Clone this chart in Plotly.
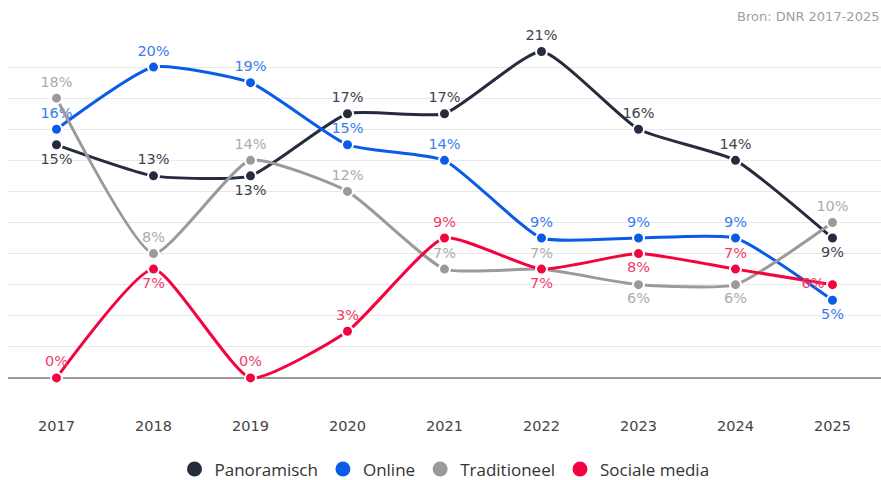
import plotly.graph_objects as go

years = ["2017", "2018", "2019", "2020", "2021", "2022", "2023", "2024", "2025"]

panoramisch = [15, 13, 13, 17, 17, 21, 16, 14, 9]
online = [16, 20, 19, 15, 14, 9, 9, 9, 5]
traditioneel = [18, 8, 14, 12, 7, 7, 6, 6, 10]
sociale_media = [0, 7, 0, 3, 9, 7, 8, 7, 6]

T, B, L = "top center", "bottom center", "middle left"
series = [
    ("Panoramisch", panoramisch, "#262b3d", "#3f4352",
     [B, T, B, T, T, T, T, T, B]),
    ("Online", online, "#0a5ce8", "#3b7ded",
     [T, T, T, T, T, T, T, T, B]),
    ("Traditioneel", traditioneel, "#9a9a9a", "#acacac",
     [T, T, T, T, T, T, B, B, T]),
    ("Sociale media", sociale_media, "#f5033f", "#f23d66",
     [T, B, T, T, T, B, B, T, L]),
]

fig = go.Figure()
for name, vals, col, txtcol, pos in series:
    fig.add_trace(go.Scatter(
        x=years, y=vals, name=name, mode="lines+markers+text",
        line=dict(color=col, width=3, shape="spline", smoothing=0.5),
        marker=dict(color=col, size=11, line=dict(color="white", width=2)),
        text=[f"{v}%" for v in vals], textposition=pos,
        textfont=dict(color=txtcol, size=14.5, family="DejaVu Sans"),
        showlegend=False, cliponaxis=False,
    ))
    # legend-only dot
    fig.add_trace(go.Scatter(
        x=[None], y=[None], name=name, mode="markers",
        marker=dict(color=col, size=15),
    ))

fig.add_annotation(text="Bron: DNR 2017-2025", xref="paper", yref="paper",
                   x=1, y=1, xanchor="right", yanchor="bottom", yshift=10,
                   showarrow=False, font=dict(size=13, color="#a0a0a0", family="DejaVu Sans"))

fig.update_layout(
    width=881, height=480,
    margin=dict(l=8, r=0, t=36, b=71, autoexpand=False),
    plot_bgcolor="white", paper_bgcolor="white",
    font=dict(family="DejaVu Sans", color="#444444"),
    xaxis=dict(range=[-0.5, 8.5], showgrid=False, showline=False, ticks="",
               ticklabelstandoff=6,
               tickfont=dict(size=14.5, color="#444444"), fixedrange=True),
    yaxis=dict(range=[-2, 22], dtick=2, showticklabels=False, gridcolor="#e8e8e8",
               gridwidth=1, zeroline=True, zerolinecolor="#9a9a9a", zerolinewidth=1.5,
               fixedrange=True),
    legend=dict(orientation="h", x=0.5, xanchor="center", yref="container",
                y=0.022, yanchor="middle",
                font=dict(size=17, color="#333333", family="Open Sans"), itemsizing="trace"),
)

# drop the default page margin so the 881x480 figure fills the window exactly
fig.write_html("out.html", config={"displayModeBar": False},
               post_script="document.body.style.margin='0';document.body.style.overflow='hidden';")
